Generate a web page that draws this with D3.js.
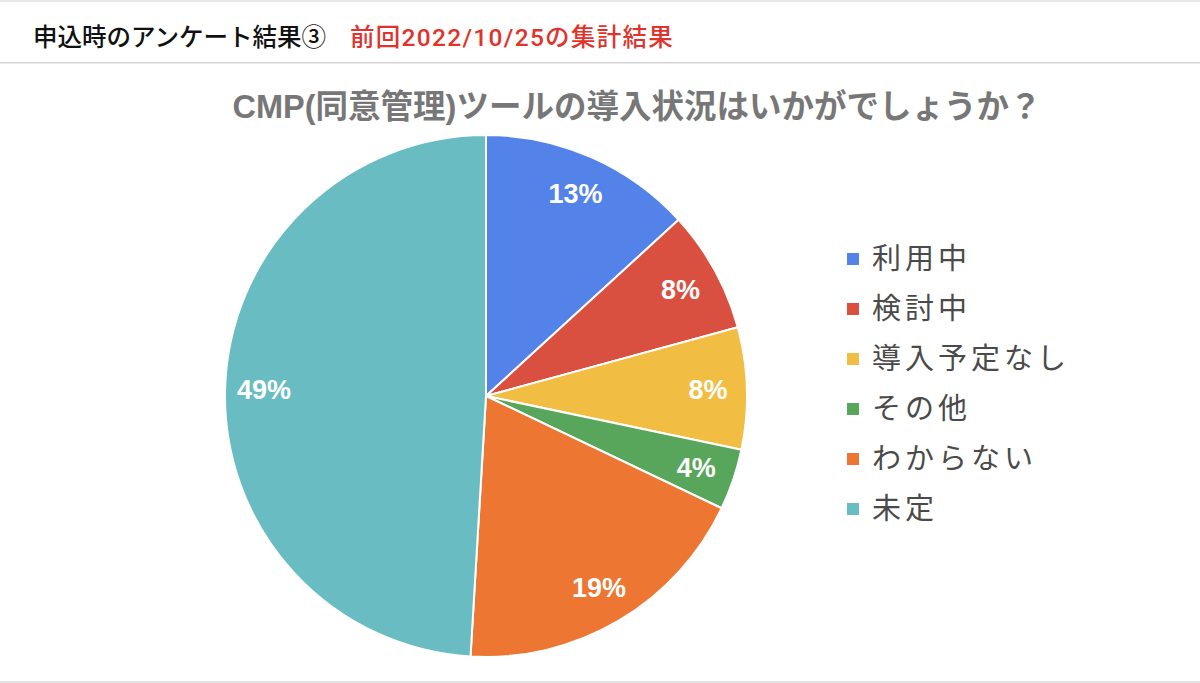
<!DOCTYPE html>
<html><head><meta charset="utf-8">
<script src="https://cdn.jsdelivr.net/npm/d3@7"></script>
<style>
html,body{margin:0;padding:0;background:#fff;}
svg{display:block;font-family:"Liberation Sans","Noto Sans CJK JP",sans-serif;}
</style></head><body>
<svg id="c" width="1200" height="683"></svg>
<script>
const categories = ["利用中","検討中","導入予定なし","その他","わからない","未定"];
const counts = [7, 4, 4, 2, 10, 26];
const colors = ["#5383e8","#d95040","#f1bd42","#58a65c","#ec7632","#6abcc3"];
const headerMain = "申込時のアンケート結果③";
const headerSub = "前回2022/10/25の集計結果";
const title = "CMP(同意管理)ツールの導入状況はいかがでしょうか？";

const svg = d3.select("#c");
svg.append("rect").attr("x",0).attr("y",0).attr("width",1200).attr("height",2).attr("fill","#e8e8e8");
svg.append("rect").attr("x",0).attr("y",62).attr("width",1200).attr("height",1.5).attr("fill","#d4d4d4");
svg.append("rect").attr("x",0).attr("y",681).attr("width",1200).attr("height",2).attr("fill","#e4e4e4");

const hdr = svg.append("text").attr("x",33).attr("y",46)
  .style("font-family",'Roboto,"Noto Sans CJK JP",sans-serif').style("font-size","24.5px").style("font-weight","500");
hdr.append("tspan").attr("fill","#111").text(headerMain);
hdr.append("tspan").attr("x",350).attr("fill","#e0332b").style("letter-spacing","1.3px").text(headerSub);

svg.append("text").attr("x",637).attr("y",118).attr("text-anchor","middle")
  .attr("fill","#777").style("font-size","32.5px").style("font-weight","bold")
  .style("font-family",'"Liberation Sans","Noto Sans CJK JP",sans-serif')
  .text(title);

const cx = 486, cy = 396, r = 261;
const total = d3.sum(counts);
const pie = d3.pie().sort(null).value(d=>d)(counts);
const arc = d3.arc().innerRadius(0).outerRadius(r);
const labelArc = d3.arc().innerRadius(222).outerRadius(222);
const g = svg.append("g").attr("transform",`translate(${cx},${cy})`);
g.selectAll("path").data(pie).join("path")
  .attr("d",arc).attr("fill",(d,i)=>colors[i])
  .attr("stroke","#fff").attr("stroke-width",2).attr("stroke-linejoin","round");
g.selectAll("text.lbl").data(pie).join("text").attr("class","lbl")
  .attr("transform",d=>`translate(${labelArc.centroid(d)})`)
  .attr("text-anchor","middle").attr("dy","0.36em")
  .attr("fill","#fff").style("font-size","27px").style("font-weight","bold")
  .style("font-family",'"Liberation Sans",Arial,sans-serif')
  .text(d=>Math.round(d.data/total*100)+"%");

const leg = svg.append("g").attr("transform","translate(847,259)");
const row = leg.selectAll("g").data(categories).join("g")
  .attr("transform",(d,i)=>`translate(0,${i*50})`);
row.append("rect").attr("x",0).attr("y",-6).attr("width",12).attr("height",12)
  .attr("fill",(d,i)=>colors[i]);
row.append("text").attr("x",25).attr("y",0).attr("dy","0.36em")
  .attr("fill","#4a4a4a").style("font-size","29px").style("letter-spacing","4px")
  .style("font-family",'"Noto Sans CJK JP",sans-serif')
  .text(d=>d);
</script></body></html>
